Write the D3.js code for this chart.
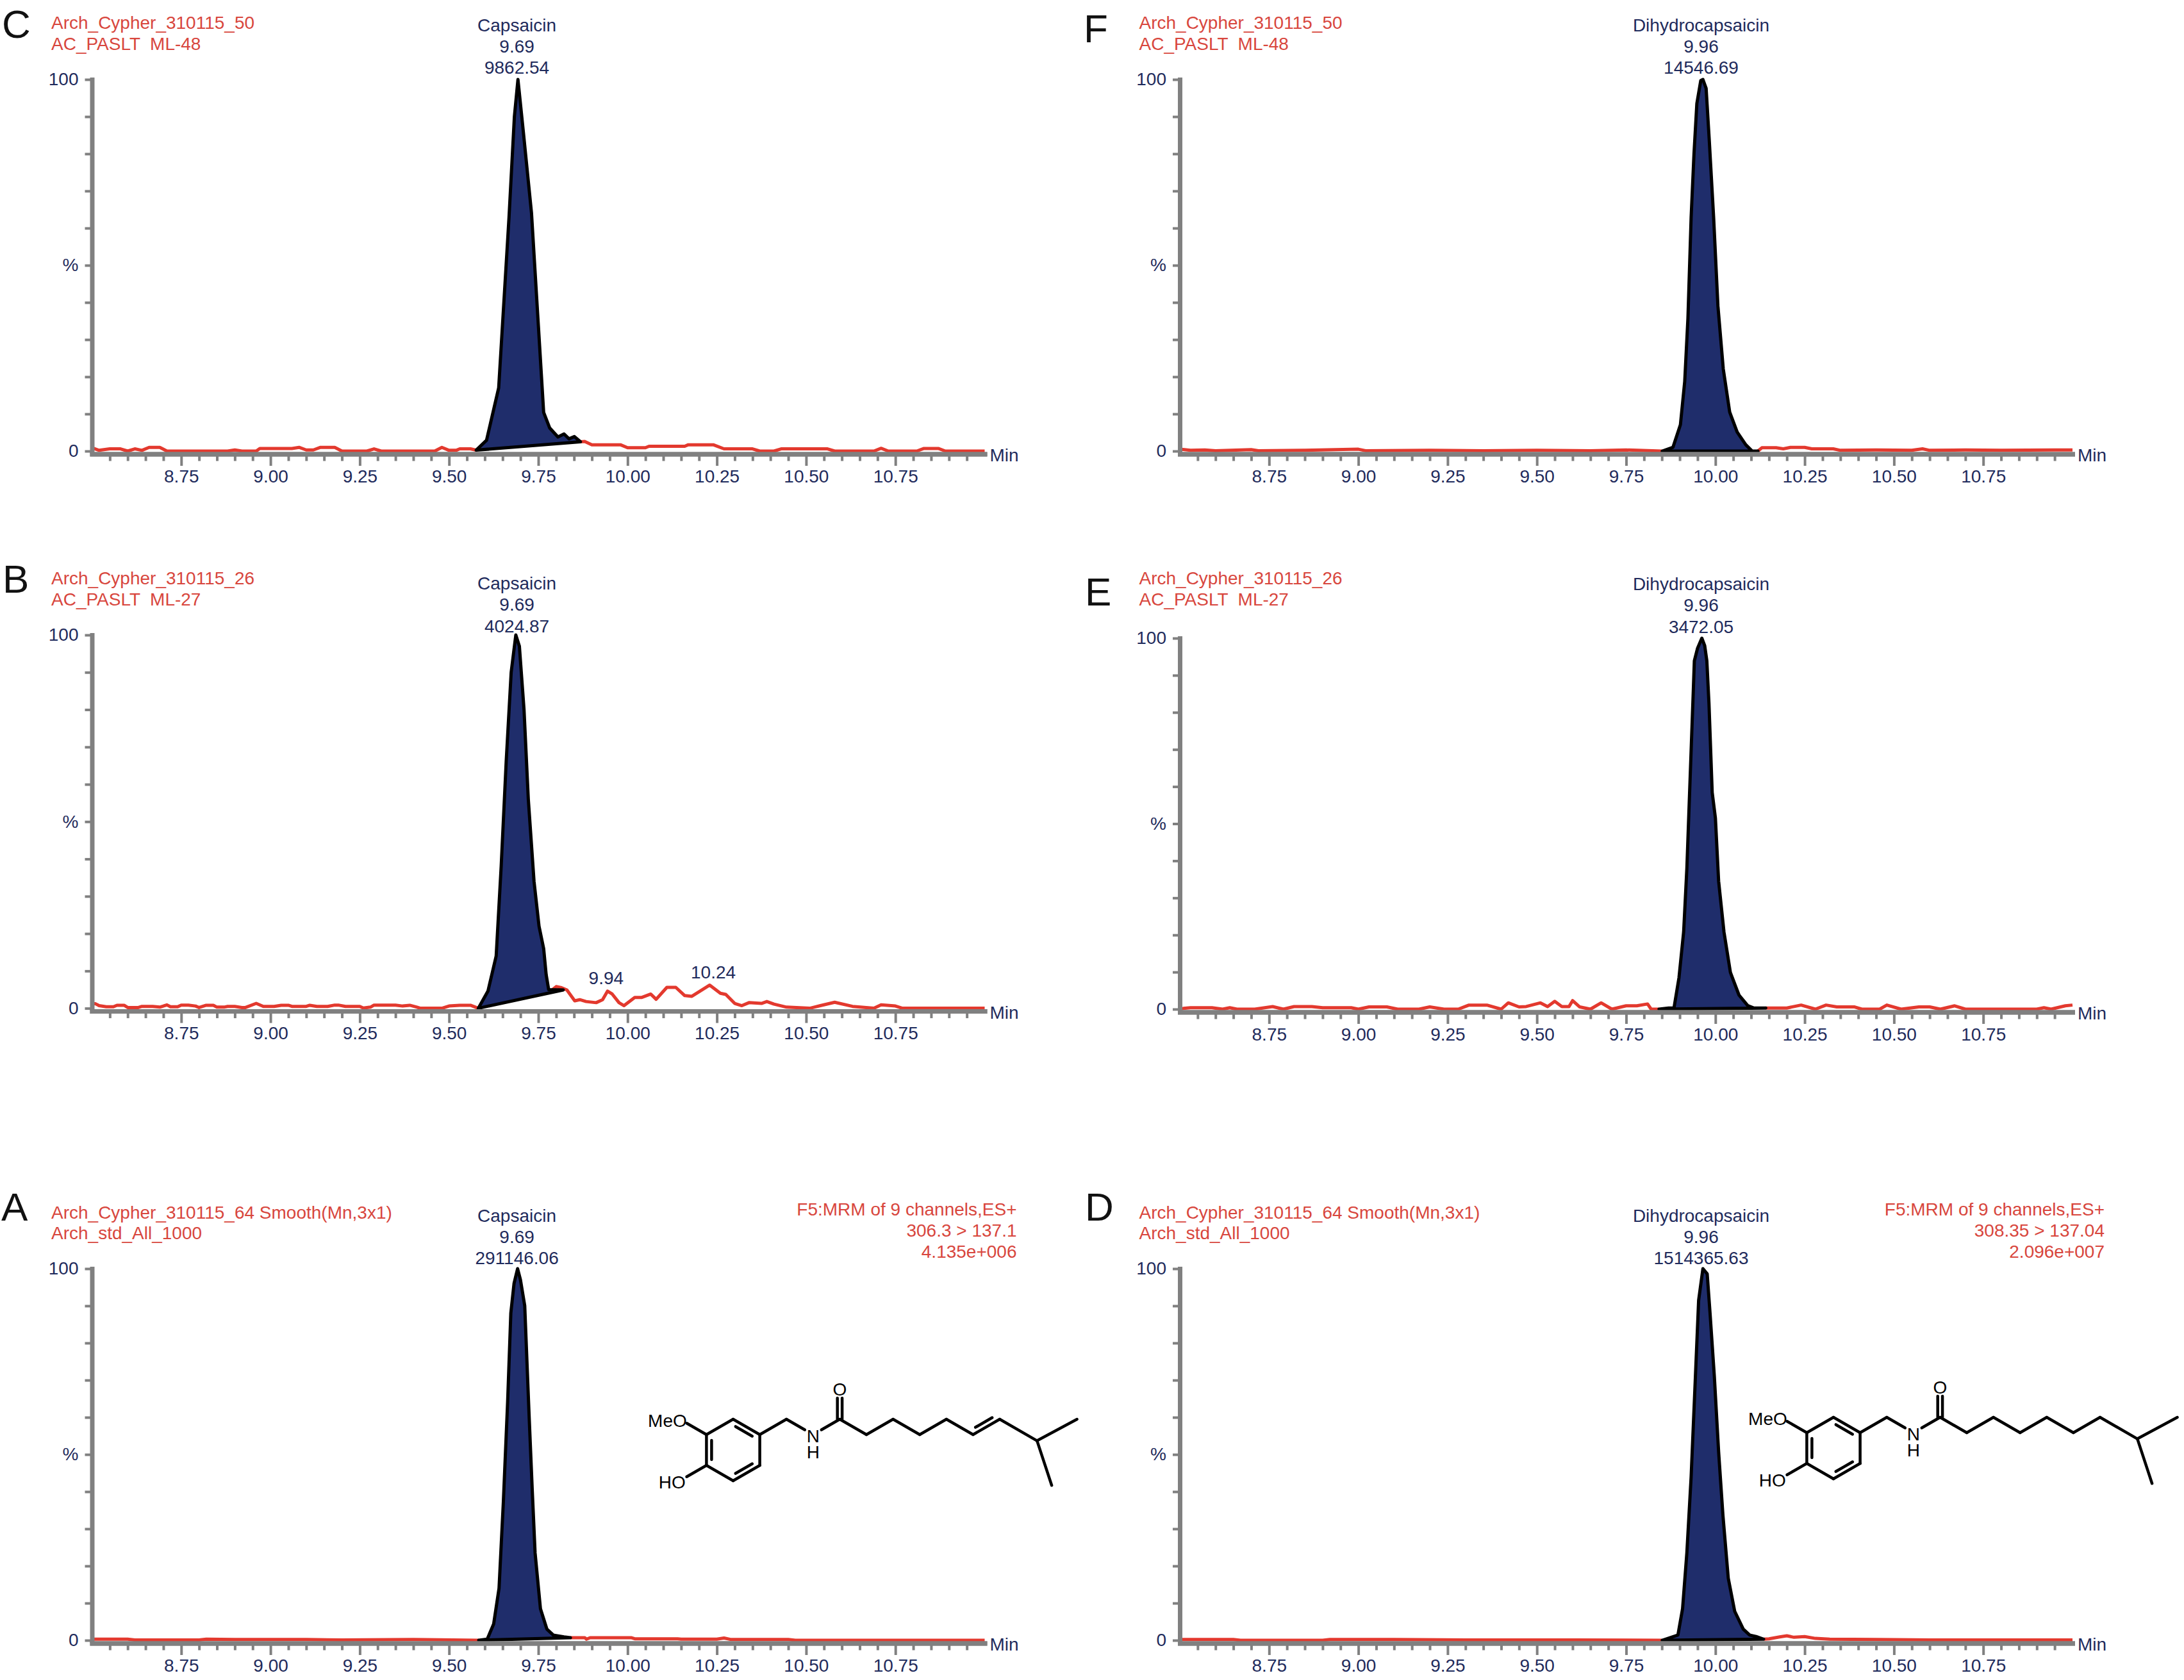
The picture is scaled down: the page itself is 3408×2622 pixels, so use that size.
<!DOCTYPE html>
<html><head><meta charset="utf-8">
<script src="https://cdn.jsdelivr.net/npm/d3@7"></script>
<style>
body{margin:0;background:#fff}
svg{display:block;background:#fff}
text{font-family:"Liberation Sans",Arial,Helvetica,sans-serif}
</style>
</head><body>
<svg id="chart" width="3408" height="2622"></svg>
<script>
// ---------------- DATA ----------------
const timeDomain = [8.5, 11.0];
const majorTicks = [8.75, 9.00, 9.25, 9.50, 9.75, 10.00, 10.25, 10.50, 10.75];
const yTicks = [0, 10, 20, 30, 40, 50, 60, 70, 80, 90, 100];
const yTickLabels = {0: "0", 50: "%", 100: "100"};

const panelLetters = ["C", "B", "A", "F", "E", "D"];
const headerLine1 = ["Arch_Cypher_310115_50", "Arch_Cypher_310115_26", "Arch_Cypher_310115_64 Smooth(Mn,3x1)",
                     "Arch_Cypher_310115_50", "Arch_Cypher_310115_26", "Arch_Cypher_310115_64 Smooth(Mn,3x1)"];
const headerLine2 = ["AC_PASLT  ML-48", "AC_PASLT  ML-27", "Arch_std_All_1000",
                     "AC_PASLT  ML-48", "AC_PASLT  ML-27", "Arch_std_All_1000"];
const compounds = ["Capsaicin", "Capsaicin", "Capsaicin", "Dihydrocapsaicin", "Dihydrocapsaicin", "Dihydrocapsaicin"];
const retentionTimes = [9.69, 9.69, 9.69, 9.96, 9.96, 9.96];
const peakAreas = ["9862.54", "4024.87", "291146.06", "14546.69", "3472.05", "1514365.63"];
const channelInfoA = ["F5:MRM of 9 channels,ES+", "306.3 > 137.1", "4.135e+006"];
const channelInfoD = ["F5:MRM of 9 channels,ES+", "308.35 > 137.04", "2.096e+007"];
const minorPeakTimesB = [9.94, 10.24];
const minorPeakHeightsB = [4.7, 6.2];

// red chromatogram traces [time, %] (null = integrated peak region)
const traceC = [[8.50,0.9],[8.52,0.2],[8.55,0.6],[8.58,0.6],[8.60,0.0],[8.62,0.6],[8.64,0.2],[8.66,1.0],[8.69,1.0],[8.71,0.0],[8.88,0.0],[8.90,0.3],[8.92,0.0],[8.96,0.0],[8.97,0.7],[9.06,0.7],[9.08,1.0],[9.10,0.3],[9.12,0.3],[9.14,1.0],[9.18,1.0],[9.20,0.0],[9.27,0.0],[9.29,0.6],[9.31,0.0],[9.46,0.0],[9.48,1.0],[9.50,0.2],[9.52,0.2],[9.53,0.6],[9.56,0.6],[9.576,0.25],null,[9.868,2.5],[9.88,2.6],[9.90,1.7],[9.98,1.7],[10.00,0.9],[10.05,0.9],[10.06,1.3],[10.16,1.3],[10.17,1.7],[10.24,1.7],[10.27,0.6],[10.35,0.6],[10.37,0.0],[10.41,0.0],[10.43,0.6],[10.56,0.6],[10.58,0.0],[10.69,0.0],[10.71,0.75],[10.73,0.0],[10.81,0.0],[10.83,0.7],[10.87,0.7],[10.89,0.0],[11.00,0.0]];
const traceB = [[8.50,1.2],[8.51,1.2],[8.52,0.7],[8.54,0.4],[8.56,0.4],[8.57,0.8],[8.59,0.8],[8.60,0.2],[8.63,0.2],[8.64,0.5],[8.67,0.5],[8.69,0.3],[8.71,0.9],[8.72,0.4],[8.74,0.4],[8.75,0.85],[8.77,0.85],[8.79,0.6],[8.80,0.2],[8.82,0.8],[8.84,0.8],[8.85,0.3],[8.87,0.3],[8.88,0.5],[8.90,0.5],[8.92,0.2],[8.93,0.2],[8.96,1.3],[8.98,0.5],[9.01,0.5],[9.03,0.8],[9.05,0.8],[9.06,0.5],[9.10,0.5],[9.11,0.8],[9.13,0.5],[9.16,0.5],[9.18,0.85],[9.19,0.85],[9.21,0.5],[9.25,0.5],[9.26,0.05],[9.28,0.3],[9.29,0.85],[9.35,0.85],[9.37,0.6],[9.39,0.8],[9.41,0.3],[9.42,0.0],[9.48,0.0],[9.50,0.6],[9.53,0.8],[9.56,0.8],[9.582,0.0],null,[9.79,5.0],[9.80,5.8],[9.815,5.5],[9.83,4.9],[9.852,2.0],[9.866,2.3],[9.884,1.8],[9.912,1.5],[9.93,2.3],[9.944,4.6],[9.957,3.8],[9.976,1.5],[9.99,0.7],[10.02,2.9],[10.04,2.9],[10.065,3.8],[10.08,2.4],[10.11,5.6],[10.135,5.6],[10.16,3.4],[10.18,3.2],[10.23,6.2],[10.26,4.0],[10.275,3.7],[10.30,1.3],[10.32,0.7],[10.34,1.5],[10.375,1.3],[10.39,1.8],[10.41,1.1],[10.445,0.3],[10.51,0.0],[10.54,0.7],[10.58,1.6],[10.63,0.5],[10.69,0.0],[10.71,0.9],[10.75,0.6],[10.77,0.0],[11.00,0.0]];
const traceA = [[8.50,0.3],[8.60,0.3],[8.62,0.1],[8.80,0.1],[8.82,0.3],[8.90,0.2],[9.10,0.2],[9.20,0.1],[9.40,0.2],[9.583,0.0],null,[9.84,0.7],[9.88,0.7],[9.885,0.3],[9.895,0.7],[10.01,0.7],[10.02,0.4],[10.14,0.4],[10.15,0.3],[10.25,0.3],[10.27,0.6],[10.29,0.2],[10.45,0.2],[10.47,0.0],[11.00,0.0]];
const traceF = [[8.50,0.5],[8.53,0.2],[8.57,0.3],[8.60,0.1],[8.70,0.4],[8.72,0.1],[8.85,0.2],[9.00,0.5],[9.02,0.1],[9.20,0.2],[9.35,0.1],[9.50,0.2],[9.65,0.1],[9.75,0.3],[9.851,0.0],null,[10.119,0.0],[10.13,0.9],[10.17,0.9],[10.19,0.6],[10.21,1.0],[10.25,1.0],[10.27,0.6],[10.33,0.6],[10.35,0.2],[10.45,0.3],[10.55,0.2],[10.58,0.6],[10.60,0.2],[10.70,0.3],[10.80,0.2],[10.95,0.3],[11.00,0.3]];
const traceE = [[8.50,0.0],[8.51,0.2],[8.53,0.4],[8.59,0.4],[8.62,0.0],[8.64,0.4],[8.66,0.0],[8.71,0.0],[8.76,0.7],[8.79,0.0],[8.82,0.7],[8.87,0.7],[8.90,0.4],[8.98,0.4],[9.00,0.0],[9.03,0.6],[9.08,0.6],[9.11,0.0],[9.17,0.0],[9.20,0.6],[9.24,0.0],[9.28,0.0],[9.31,1.1],[9.36,1.1],[9.40,0.0],[9.42,1.7],[9.45,0.6],[9.47,0.7],[9.51,1.7],[9.53,0.7],[9.55,2.1],[9.57,0.7],[9.59,0.7],[9.60,2.3],[9.62,0.6],[9.65,0.0],[9.68,1.7],[9.71,0.0],[9.75,0.9],[9.78,0.9],[9.81,1.4],[9.82,0.0],[9.842,0.0],null,[10.141,0.3],[10.15,0.3],[10.20,0.3],[10.24,1.1],[10.28,0.0],[10.31,1.1],[10.34,0.6],[10.39,0.6],[10.41,0.0],[10.46,0.0],[10.48,1.1],[10.52,0.0],[10.57,0.6],[10.60,0.6],[10.63,0.0],[10.67,0.9],[10.70,0.0],[10.90,0.0],[10.92,0.4],[10.94,0.0],[10.98,0.9],[11.00,1.1]];
const traceD = [[8.50,0.2],[8.65,0.2],[8.67,0.0],[8.90,0.0],[8.92,0.2],[9.10,0.2],[9.30,0.1],[9.60,0.1],[9.851,0.0],null,[10.135,0.3],[10.15,0.4],[10.18,0.9],[10.20,1.2],[10.22,0.8],[10.25,1.0],[10.28,0.5],[10.32,0.3],[10.45,0.2],[10.60,0.1],[11.00,0.1]];

// integrated peaks [time, %]; polygon closed by straight integration baseline
const peakC = [[9.576,0.25],[9.605,2.9],[9.639,17],[9.668,63],[9.683,90],[9.693,100],[9.708,86],[9.731,64],[9.765,10.4],[9.782,6.2],[9.805,3.8],[9.822,4.6],[9.836,3.3],[9.851,3.9],[9.868,2.5]];
const peakB = [[9.582,0],[9.609,4.6],[9.632,14],[9.646,38],[9.660,66],[9.674,90],[9.687,100],[9.697,97],[9.710,80],[9.722,56],[9.738,34],[9.752,22],[9.765,16],[9.772,9],[9.779,5],[9.82,4.9]];
const peakA = [[9.583,0],[9.607,0.3],[9.625,4.4],[9.640,14],[9.652,37],[9.664,64],[9.673,88],[9.682,96],[9.692,100],[9.700,97],[9.712,90],[9.724,61],[9.733,40.5],[9.741,23.5],[9.756,8.5],[9.774,3],[9.792,1.4],[9.822,0.9],[9.840,0.7]];
const peakF = [[9.851,0],[9.881,1],[9.902,7.1],[9.914,18.7],[9.923,35.7],[9.932,62.9],[9.940,80],[9.948,93.5],[9.959,99.7],[9.965,100],[9.974,97.6],[9.983,83.3],[9.995,62.9],[10.007,39.1],[10.022,22.1],[10.040,10.5],[10.061,5.1],[10.085,1.7],[10.103,0],[10.119,0]];
const peakE = [[9.842,0],[9.869,0.3],[9.884,0.3],[9.898,8.5],[9.911,20.8],[9.920,37.9],[9.929,61.8],[9.938,85.7],[9.941,93.9],[9.950,97.3],[9.962,100],[9.970,98],[9.976,93.9],[9.982,82.3],[9.991,58.4],[10.000,51.5],[10.009,34.5],[10.024,20.8],[10.042,9.9],[10.066,3.8],[10.090,1],[10.108,0.3],[10.141,0.3]];
const peakD = [[9.851,0],[9.895,1.4],[9.908,8.5],[9.920,23.5],[9.932,44],[9.944,71],[9.953,91.5],[9.965,100],[9.977,98.6],[9.985,88],[9.997,71],[10.009,50.7],[10.021,33.7],[10.036,16.7],[10.054,7.8],[10.078,3],[10.096,1.4],[10.114,1],[10.135,0.3]];

const traces = [traceC, traceB, traceA, traceF, traceE, traceD];
const peaks = [peakC, peakB, peakA, peakF, peakE, peakD];

// ---------------- LAYOUT / STYLE ----------------
const COLORS = {axis: "#808080", navy: "#1f2b5c", hdr: "#d8463d", trace: "#e3392e", fill: "#1f2d6b"};
const FS = 28;
const PW = 1393;               // plot width
const colX0 = [143.5, 1841];
const panelGeom = [
  {col:0, yTop:124,  y0:704,    letter:[3,59],     hdr:[45,78],     ttl:[49,82,115]},
  {col:0, yTop:991,  y0:1573.6, letter:[4,925],    hdr:[912,945],   ttl:[920,953,987]},
  {col:0, yTop:1980, y0:2560,   letter:[2,1905],   hdr:[1902,1934], ttl:[1907,1940,1973]},
  {col:1, yTop:124,  y0:704,    letter:[1691,66],  hdr:[45,78],     ttl:[49,82,115]},
  {col:1, yTop:996,  y0:1575,   letter:[1693,945], hdr:[912,945],   ttl:[921,954,988]},
  {col:1, yTop:1980, y0:2560,   letter:[1693,1905],hdr:[1902,1934], ttl:[1907,1940,1973]}
];

const svg = d3.select("#chart");
const minorTicks = d3.range(171, 220).filter(i => i % 5 !== 0).map(i => i / 20);

function styleAxis(g) {
  g.select(".domain").attr("stroke", COLORS.axis).attr("stroke-width", 7).attr("stroke-linecap", "square");
  g.selectAll(".tick line").attr("stroke", COLORS.axis).attr("stroke-width", 4);
  g.selectAll(".tick text").attr("fill", COLORS.navy).attr("font-size", FS)
    .attr("font-family", '"Liberation Sans",Arial,sans-serif');
}

panelGeom.forEach((p, i) => {
  const x0 = colX0[p.col];
  const x = d3.scaleLinear().domain(timeDomain).range([x0, x0 + PW]);
  const y = d3.scaleLinear().domain([0, 100]).range([p.y0, p.yTop]);
  const g = svg.append("g");

  const line = d3.line().defined(d => d !== null).x(d => x(d[0])).y(d => y(d[1]));
  g.append("path").attr("d", line(traces[i])).attr("fill", "none")
    .attr("stroke", COLORS.trace).attr("stroke-width", 5).attr("stroke-linejoin", "round");

  const pl = d3.line().x(d => x(d[0])).y(d => y(d[1]));
  g.append("path").attr("d", pl(peaks[i]) + "Z").attr("fill", COLORS.fill)
    .attr("stroke", "#000").attr("stroke-width", 5).attr("stroke-linejoin", "round");

  const gxm = g.append("g").attr("transform", `translate(0,${p.y0 + 4.5})`)
    .call(d3.axisBottom(x).tickValues(minorTicks).tickSize(11).tickSizeOuter(0).tickFormat(""));
  styleAxis(gxm);
  const gx = g.append("g").attr("transform", `translate(0,${p.y0 + 4.5})`)
    .call(d3.axisBottom(x).tickValues(majorTicks).tickSize(18.5).tickPadding(6).tickSizeOuter(0).tickFormat(d3.format(".2f")));
  styleAxis(gx);

  const gy = g.append("g").attr("transform", `translate(${x0},0)`)
    .call(d3.axisLeft(y).tickValues(yTicks).tickSize(11).tickPadding(10).tickSizeOuter(0)
      .tickFormat(d => yTickLabels[d] || ""));
  styleAxis(gy);

  g.append("text").attr("x", x0 + PW + 8).attr("y", p.y0 + 16).attr("font-size", FS)
    .attr("fill", COLORS.navy).text("Min");

  g.append("text").attr("x", p.letter[0]).attr("y", p.letter[1]).attr("font-size", 62)
    .attr("fill", "#111").text(panelLetters[i]);

  g.append("text").attr("x", x0 - 63.5).attr("y", p.hdr[0]).attr("font-size", FS)
    .attr("fill", COLORS.hdr).attr("xml:space", "preserve").style("white-space", "pre").text(headerLine1[i]);
  g.append("text").attr("x", x0 - 63.5).attr("y", p.hdr[1]).attr("font-size", FS)
    .attr("fill", COLORS.hdr).attr("xml:space", "preserve").style("white-space", "pre").text(headerLine2[i]);

  [compounds[i], retentionTimes[i].toFixed(2), peakAreas[i]].forEach((t, k) => {
    g.append("text").attr("x", x(retentionTimes[i])).attr("y", p.ttl[k]).attr("font-size", FS)
      .attr("text-anchor", "middle").attr("fill", COLORS.navy).text(t);
  });

  const info = i === 2 ? channelInfoA : i === 5 ? channelInfoD : null;
  if (info) {
    info.forEach((t, k) => {
      g.append("text").attr("x", x0 + 1443).attr("y", 1897 + k * 33).attr("font-size", FS)
        .attr("text-anchor", "end").attr("fill", COLORS.hdr).text(t);
    });
  }

  if (i === 1) {
    minorPeakTimesB.forEach((t, k) => {
      g.append("text").attr("x", x(t)).attr("y", y(minorPeakHeightsB[k]) - 10).attr("font-size", FS)
        .attr("text-anchor", "middle").attr("fill", COLORS.navy).text(t.toFixed(2));
    });
  }
});

// ---------------- STRUCTURES ----------------
const molU = 41.6, molV = 24;
const molAtoms = [[0,-2],[1,-1],[1,1],[0,2],[-1,1],[-1,-1],[-2,-2],[-2,2],[2,-2],[3,-1],[4,-2],[4,-4],
                  [5,-1],[6,-2],[7,-1],[8,-2],[9,-1],[10,-2],[11.4,-0.6],[12.9,-2],[11.95,2.3]];
const molTrim = {6:12.5, 7:12.5, 9:15, 11:15};

function drawMolecule(cx, cy, unsaturated) {
  const g = svg.append("g").attr("stroke", "#000").attr("stroke-width", 4.5).attr("stroke-linecap", "round");
  const P = molAtoms.map(a => [cx + a[0] * molU, cy + a[1] * molV]);
  const bonds = [[0,1,"ring"],[1,2],[2,3,"ring"],[3,4],[4,5,"ring"],[5,0],[5,6],[4,7],[1,8],[8,9],[9,10],
                 [10,11,"double"],[10,12],[12,13],[13,14],[14,15],[15,16],[16,17,unsaturated ? "alkene" : null],
                 [17,18],[18,19],[18,20]];
  const seg = (a, b, ta, tb) => {
    const dx = b[0] - a[0], dy = b[1] - a[1], L = Math.hypot(dx, dy), ux = dx / L, uy = dy / L;
    return [[a[0] + ux * ta, a[1] + uy * ta], [b[0] - ux * tb, b[1] - uy * tb]];
  };
  const draw = s => g.append("line").attr("x1", s[0][0]).attr("y1", s[0][1]).attr("x2", s[1][0]).attr("y2", s[1][1]);
  bonds.forEach(([ia, ib, type]) => {
    const a = P[ia], b = P[ib];
    const s = seg(a, b, molTrim[ia] || 0, molTrim[ib] || 0);
    const dx = b[0] - a[0], dy = b[1] - a[1], L = Math.hypot(dx, dy);
    let nx = -dy / L, ny = dx / L;
    if (type === "double") {
      const o = 3.7;
      draw([[s[0][0] + nx * o, s[0][1] + ny * o], [s[1][0] + nx * o, s[1][1] + ny * o]]);
      draw([[s[0][0] - nx * o, s[0][1] - ny * o], [s[1][0] - nx * o, s[1][1] - ny * o]]);
      return;
    }
    draw(s);
    if (type === "ring" || type === "alkene") {
      const mx = (a[0] + b[0]) / 2, my = (a[1] + b[1]) / 2;
      if (type === "ring") { if ((cx - mx) * nx + (cy - my) * ny < 0) { nx = -nx; ny = -ny; } }
      else if (ny > 0) { nx = -nx; ny = -ny; }
      const o = 8, inner = seg(a, b, 9, 9);
      draw([[inner[0][0] + nx * o, inner[0][1] + ny * o], [inner[1][0] + nx * o, inner[1][1] + ny * o]]);
    }
  });
  const t = svg.append("g").attr("font-size", FS).attr("fill", "#000");
  t.append("text").attr("x", P[6][0] + 11).attr("y", P[6][1] + 12).attr("text-anchor", "end").text("MeO");
  t.append("text").attr("x", P[7][0] + 9).attr("y", P[7][1] + 12).attr("text-anchor", "end").text("HO");
  t.append("text").attr("x", P[9][0]).attr("y", P[9][1] + 12).attr("text-anchor", "middle").text("N");
  t.append("text").attr("x", P[9][0]).attr("y", P[9][1] + 37).attr("text-anchor", "middle").text("H");
  t.append("text").attr("x", P[11][0]).attr("y", P[11][1] + 11).attr("text-anchor", "middle").text("O");
}
drawMolecule(1144, 2263, true);
drawMolecule(2861, 2260, false);
</script>
</body></html>
